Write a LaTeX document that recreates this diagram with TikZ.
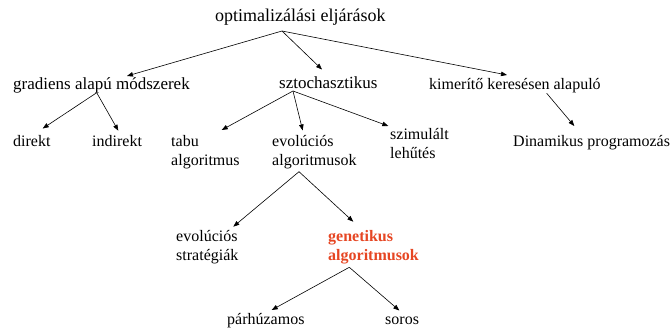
\documentclass[tikz,border=0pt]{standalone}
\usepackage{fontspec}
\setmainfont{Liberation Serif}
\usetikzlibrary{arrows.meta}
\colorlet{genetic red}{rgb,255:red,230;green,70;blue,35}
\tikzset{txt/.style={anchor=base west, inner sep=0pt, align=left,
        font=\fontsize{16}{19}\selectfont},
    bigtxt/.style={txt, font=\fontsize{17}{20}\selectfont},
    link/.style={-{Triangle[length=6pt,width=4.5pt]}, line width=0.6pt}}

\begin{document}
\begin{tikzpicture}[x=1pt, y=-1pt]
    \useasboundingbox (0,0) rectangle (670,328);

    \node[txt, font=\fontsize{18}{22}\selectfont] (root) at (215,21.7) {optimalizálási eljárások};

    \node[bigtxt] (grad)   at (13,89.3)  {gradiens alapú módszerek};
    \node[bigtxt] (sztoch) at (279,88.3) {sztochasztikus};
    \node[txt]    (kimer)  at (429,89.3) {kimerítő keresésen alapuló};

    % two-line nodes: base is the baseline of the last line
    \node[txt] (direkt)   at (13,146.7)  {direkt};
    \node[txt] (indirekt) at (92,146.7)  {indirekt};
    \node[txt] (tabu)     at (171,165.7) {tabu\\algoritmus};
    \node[txt] (evol)     at (272,165.7) {evolúciós\\algoritmusok};
    \node[txt] (szim)     at (390,158.5) {szimulált\\lehűtés};
    \node[txt] (dinam)    at (513,146.7) {Dinamikus programozás};

    \node[txt] (evstrat) at (176,260.3) {evolúciós\\stratégiák};
    \node[txt, text=genetic red, font=\fontsize{16}{19}\selectfont\bfseries] (genet) at (328,260.3) {genetikus\\algoritmusok};

    \node[txt] (parh)  at (227,325) {párhúzamos};
    \node[txt] (soros) at (385,325) {soros};

    \draw[link] ([shift={(67,9.3)}]root.base west) -- ([shift={(114,-13.3)}]grad.base west);
    \draw[link] ([shift={(67,9.3)}]root.base west) -- ([shift={(43,-18.8)}]sztoch.base west);
    \draw[link] ([shift={(67,9.3)}]root.base west) -- ([shift={(78,-14.3)}]kimer.base west);

    \draw[link] ([shift={(83.7,3.4)}]grad.base west) -- ([shift={(29.7,-18.2)}]direkt.base west);
    \draw[link] ([shift={(83.7,3.4)}]grad.base west) -- ([shift={(26.3,-16)}]indirekt.base west);

    \draw[link] ([shift={(14,2.7)}]sztoch.base west) -- ([shift={(50.7,-35.7)}]tabu.base west);
    \draw[link] ([shift={(14,2.7)}]sztoch.base west) -- ([shift={(30.7,-35.2)}]evol.base west);
    \draw[link] ([shift={(14,2.7)}]sztoch.base west) -- ([shift={(-1.7,-32.5)}]szim.base west);

    \draw[link] ([shift={(117.7,4)}]kimer.base west) -- ([shift={(61.3,-20.7)}]dinam.base west);

    \draw[link] ([shift={(27,6)}]evol.base west) -- ([shift={(57.3,-33.6)}]evstrat.base west);
    \draw[link] ([shift={(27,6)}]evol.base west) -- ([shift={(25.3,-38.6)}]genet.base west);

    \draw[link] ([shift={(21.3,7)}]genet.base west) -- ([shift={(44.7,-15)}]parh.base west);
    \draw[link] ([shift={(21.3,7)}]genet.base west) -- ([shift={(14.3,-14.5)}]soros.base west);
\end{tikzpicture}
\end{document}
